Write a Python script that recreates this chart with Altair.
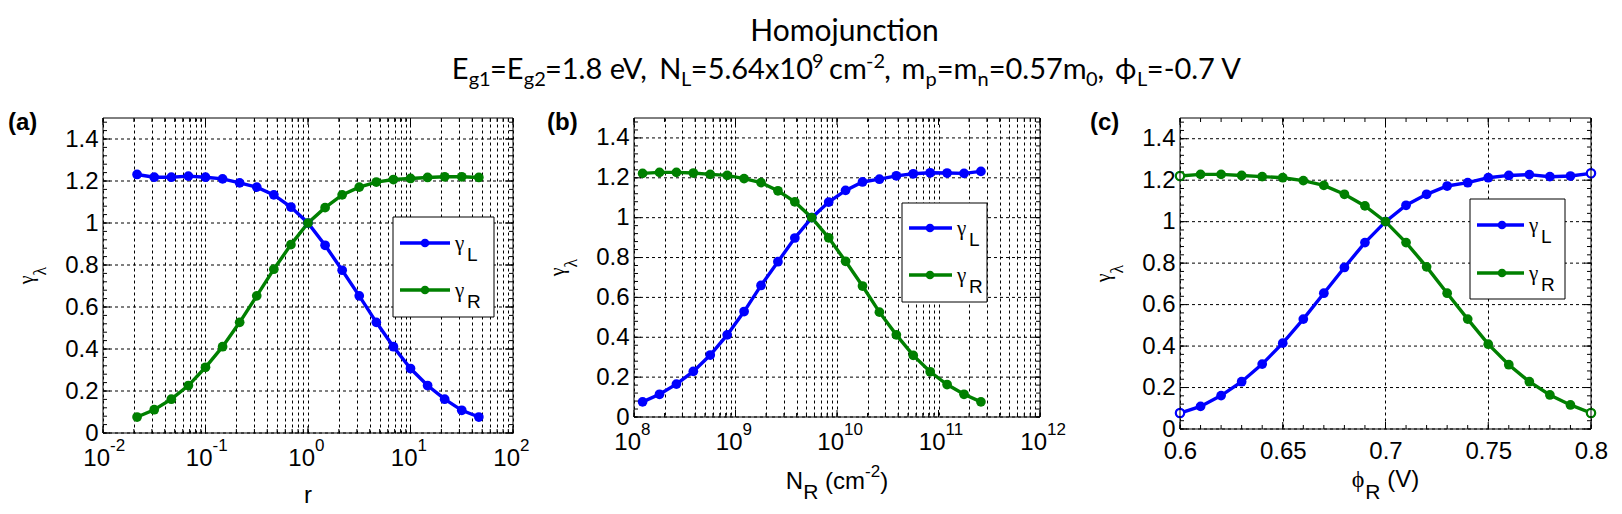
import altair as alt
import pandas as pd

# ---------------- data ----------------
r_vals = [0.0215, 0.0316, 0.0464, 0.0681, 0.1, 0.1468, 0.2154, 0.3162, 0.4642, 0.6813,
          1.0, 1.468, 2.154, 3.162, 4.642, 6.813, 10.0, 14.68, 21.54, 31.62, 46.42]
gL_a = [1.231, 1.218, 1.218, 1.223, 1.218, 1.210, 1.191, 1.171, 1.134, 1.076, 1.000,
        0.894, 0.775, 0.653, 0.527, 0.411, 0.307, 0.226, 0.161, 0.108, 0.076]
gR_a = [0.076, 0.111, 0.161, 0.226, 0.313, 0.411, 0.527, 0.653, 0.780, 0.897, 1.000,
        1.073, 1.134, 1.171, 1.195, 1.207, 1.212, 1.217, 1.220, 1.220, 1.217]

NR_vals = [1.215e8, 1.784e8, 2.618e8, 3.843e8, 5.64e8, 8.28e8, 1.215e9, 1.784e9, 2.618e9,
           3.843e9, 5.64e9, 8.28e9, 1.215e10, 1.784e10, 2.618e10, 3.843e10, 5.64e10,
           8.28e10, 1.215e11, 1.784e11, 2.618e11]
gL_b = [0.076, 0.114, 0.165, 0.229, 0.311, 0.412, 0.529, 0.660, 0.779, 0.898, 1.000,
        1.078, 1.137, 1.179, 1.193, 1.210, 1.220, 1.225, 1.224, 1.222, 1.232]
gR_b = [1.222, 1.227, 1.227, 1.224, 1.217, 1.212, 1.196, 1.176, 1.135, 1.079, 1.000,
        0.899, 0.781, 0.657, 0.526, 0.412, 0.309, 0.227, 0.163, 0.114, 0.076]

phi_vals = [0.60, 0.61, 0.62, 0.63, 0.64, 0.65, 0.66, 0.67, 0.68, 0.69, 0.70,
            0.71, 0.72, 0.73, 0.74, 0.75, 0.76, 0.77, 0.78, 0.79, 0.80]
gL_c = [0.077, 0.109, 0.161, 0.228, 0.313, 0.414, 0.530, 0.655, 0.779, 0.899, 1.000,
        1.079, 1.132, 1.172, 1.188, 1.212, 1.223, 1.227, 1.217, 1.220, 1.233]
gR_c = [1.220, 1.228, 1.228, 1.223, 1.217, 1.212, 1.198, 1.175, 1.132, 1.076, 1.000,
        0.899, 0.782, 0.655, 0.530, 0.409, 0.310, 0.228, 0.164, 0.116, 0.077]

series = ["L", "R"]
colors = ["#0000ff", "#008000"]

y_ticks = [0, 0.2, 0.4, 0.6, 0.8, 1, 1.2, 1.4]
y_minor = [round(0.04 * i, 2) for i in range(38)]

a_decades = [0.01, 0.1, 1, 10, 100]
a_exps = ["-2", "-1", "0", "1", "2"]
b_decades = [1e8, 1e9, 1e10, 1e11, 1e12]
b_exps = ["8", "9", "10", "11", "12"]
c_ticks = [0.6, 0.65, 0.7, 0.75, 0.8]

# ---------------- layout / styles ----------------
TOP = 117
LEFTS = [103, 634, 1180]
WIDTHS = [410, 406, 411]       # plot areas
GROUPW = [410, 425, 411]       # layout cells (b is padded on its right)
HEIGHTS = [315, 299, 311]
SPACING = 121
SANS = "Liberation Sans"
SERIF = "Liberation Serif"
TFONT = "Lato"
MSIZE = 95

AW = {' ': 278, '(': 333, ')': 333, '-': 333, '.': 278, 'N': 722, 'R': 722, 'V': 667,
      'L': 556, 'c': 500, 'm': 833, 'r': 333, 'ϕ': 560, 'γ': 450, 'λ': 480}
LW = {' ': 193, '=': 580, '.': 210, ',': 210, '-': 330, 'E': 587, 'N': 750, 'L': 496,
      'V': 680, 'c': 450, 'e': 518, 'g': 480, 'm': 826, 'n': 561, 'p': 559, 'x': 485,
      'ϕ': 760}


def tw(s, size, table=AW, default=556):
    return sum(table.get(ch, default) for ch in s) / 1000.0 * size


def txt(s, x, y, size, font=SANS, align="left", weight="normal", angle=0, dy=0):
    mk = dict(align=align, baseline="alphabetic", font=font, fontSize=size,
              fontWeight=weight, color="black")
    if angle:
        mk["angle"] = angle
    if dy:
        mk["dy"] = dy
    return alt.Chart(pd.DataFrame({"t": [s]})).mark_text(**mk).encode(
        x=alt.value(x), y=alt.value(y), text="t:N")


def centered(pieces, cx, base, table=AW, default=556):
    total = sum(tw(s, size, table, default) for s, size, font, off in pieces)
    x = cx - total / 2.0
    out = []
    for s, size, font, off in pieces:
        lead = len(s) - len(s.lstrip(" "))
        if s.strip():
            out.append(txt(s.strip(), x + tw(" " * lead, size, table, default),
                           base + off, size, font))
        x += tw(s, size, table, default)
    return out


def x_axis(values, labels=True, pad=10):
    kw = dict(values=values, grid=True, gridColor="black", gridDash=[3, 3], gridWidth=1,
              gridOpacity=1, domain=False, ticks=False, tickSize=0, title=None)
    if labels:
        kw.update(format="~g", labelFont=SANS, labelFontSize=24, labelColor="black",
                  labelPadding=pad, labelOverlap=False, labelFlush=False)
    else:
        kw.update(labels=False)
    return alt.Axis(**kw)


def panel(idx, xvals, yL, yR, xscale, xaxis, x_minor, x_major, legend, label, extra):
    W, H = WIDTHS[idx], HEIGHTS[idx]
    GW = GROUPW[idx]
    ys = alt.Scale(domain=[0, 1.5], nice=False, zero=False)
    yaxis = alt.Axis(values=y_ticks, format="~g", labelFont=SANS, labelFontSize=24,
                     labelColor="black", labelPadding=5, ticks=False, tickSize=0,
                     domain=False, grid=False, title=None, labelOverlap=False,
                     labelFlush=False)

    def X(f):
        return alt.X(f, type="quantitative", scale=xscale, axis=xaxis)

    def Y(f):
        return alt.Y(f, type="quantitative", scale=ys, axis=yaxis)

    one = pd.DataFrame({"a": [0]})
    df = pd.DataFrame({"x": list(xvals) * 2, "y": list(yL) + list(yR),
                       "s": ["L"] * len(xvals) + ["R"] * len(xvals)})
    col = alt.Color("s:N", scale=alt.Scale(domain=series, range=colors), legend=None)

    layers = []
    # horizontal dashed grid (drawn by hand so it stops at the plot frame)
    layers.append(alt.Chart(pd.DataFrame({"v": y_ticks})).mark_rule(
        color="black", strokeWidth=1, strokeDash=[3, 3]).encode(
        y=Y("v"), x=alt.value(0), x2=alt.value(W)))

    base = alt.Chart(df)
    layers.append(base.mark_line(strokeWidth=3.4).encode(x=X("x"), y=Y("y"), color=col))
    layers.append(base.mark_circle(size=MSIZE, opacity=1).encode(
        x=X("x"), y=Y("y"), color=col))

    # inward ticks (MATLAB box style)
    for vals, L in ((x_minor, 4), (x_major, 7)):
        d = pd.DataFrame({"v": vals})
        layers.append(alt.Chart(d).mark_rule(color="black", strokeWidth=1).encode(
            x=X("v"), y=alt.value(H), y2=alt.value(H - L)))
        layers.append(alt.Chart(d).mark_rule(color="black", strokeWidth=1).encode(
            x=X("v"), y=alt.value(0), y2=alt.value(L)))
    for vals, L in ((y_minor, 4), (y_ticks, 7)):
        d = pd.DataFrame({"v": vals})
        layers.append(alt.Chart(d).mark_rule(color="black", strokeWidth=1).encode(
            y=Y("v"), x=alt.value(0), x2=alt.value(L)))
        layers.append(alt.Chart(d).mark_rule(color="black", strokeWidth=1).encode(
            y=Y("v"), x=alt.value(W), x2=alt.value(W - L)))

    layers += extra(X, Y, df, W, H)

    # blank out any unused part of a padded layout cell
    if GW > W:
        layers.append(alt.Chart(one).mark_rect(fill="white", strokeWidth=0).encode(
            x=alt.value(W + 1), x2=alt.value(GW + 2), y=alt.value(-3), y2=alt.value(H + 3)))

    # plot frame
    layers.append(alt.Chart(one).mark_rect(
        fill="white", fillOpacity=0, stroke="black", strokeWidth=1).encode(
        x=alt.value(0), x2=alt.value(W), y=alt.value(0), y2=alt.value(H)))

    # legend box
    bx0, bx1, by0, by1, lx0, lx1, mx, e1, e2 = legend
    layers.append(alt.Chart(one).mark_rect(
        fill="white", stroke="black", strokeWidth=1).encode(
        x=alt.value(bx0), x2=alt.value(bx1), y=alt.value(by0), y2=alt.value(by1)))
    for ey, c, sub in ((e1, colors[0], "L"), (e2, colors[1], "R")):
        layers.append(alt.Chart(one).mark_rule(color=c, strokeWidth=3.4).encode(
            x=alt.value(lx0), x2=alt.value(lx1), y=alt.value(ey)))
        layers.append(alt.Chart(one).mark_circle(color=c, size=75, opacity=1).encode(
            x=alt.value(mx), y=alt.value(ey)))
        layers.append(txt("γ", lx1 + 5, ey + 7, 21, SERIF))
        layers.append(txt(sub, lx1 + 17, ey + 18, 19, SANS))

    # y-axis title  gamma_lambda (rotated)
    layers.append(txt("γ", -70, H / 2.0, 20, SERIF, align="right", angle=270))
    layers.append(txt("λ", -70, H / 2.0, 18, SERIF, align="left", angle=270, dy=13))

    # panel label
    layers.append(txt(label[0], label[1], 12, 24, SANS, weight="bold"))

    return alt.layer(*layers).properties(
        width=GW, height=H,
        view=alt.ViewBackground(stroke="transparent", strokeWidth=0))


def log_grid(lo, hi):
    vals = []
    for e in range(lo, hi):
        for m in range(1, 10):
            vals.append(m * 10.0 ** e)
    vals.append(10.0 ** hi)
    return vals


def log_labels(X, decs, exps, H):
    d = pd.DataFrame({"v": decs, "e": exps})
    return [
        alt.Chart(d).mark_text(text="10", align="right", baseline="alphabetic", dx=7,
                               font=SANS, fontSize=24, color="black").encode(
            x=X("v"), y=alt.value(H + 33)),
        alt.Chart(d).mark_text(align="left", baseline="alphabetic", dx=7,
                               font=SANS, fontSize=17, color="black").encode(
            x=X("v"), y=alt.value(H + 18), text="e:N"),
    ]


# ---------------- panel (a) ----------------
def extra_a(X, Y, df, W, H):
    out = log_labels(X, a_decades, a_exps, H)
    out += centered([("r", 24, SANS, 0)], W / 2.0, H + 70)
    return out


a_grid = log_grid(-2, 2)
xs_a = alt.Scale(type="log", domain=[0.01, 100], nice=False, range=[0, WIDTHS[0]])
pa = panel(0, r_vals, gL_a, gR_a, xs_a, x_axis(a_grid, labels=False), a_grid, a_decades,
           (290, 391, 99, 199, 297, 347, 322, 125, 172), ("(a)", -95), extra_a)


# ---------------- panel (b) ----------------
def extra_b(X, Y, df, W, H):
    out = log_labels(X, b_decades, b_exps, H)
    out += centered([("N", 24, SANS, 0), ("R", 21, SANS, 10), (" (cm", 24, SANS, 0),
                     ("-2", 17, SANS, -12), (")", 24, SANS, 0)], W / 2.0, H + 72)
    # figure title (placed relative to this panel)
    L0 = LEFTS[1]
    out.append(txt("Homojunction", 844.5 - L0, 40 - TOP, 30, TFONT, align="center"))
    M, S = 29, 20
    pieces = [("E", M, 0), ("g1", S, 7), ("=E", M, 0), ("g2", S, 7), ("=1.8 eV,", M, 0),
              ("  N", M, 0), ("L", S, 7), ("=5.64x10", M, 0), ("9", S, -11),
              (" cm", M, 0), ("-2", S, -11), (",", M, 0), ("  m", M, 0), ("p", S, 7),
              ("=m", M, 0), ("n", S, 7), ("=0.57m", M, 0), ("0", S, 7), (",", M, 0),
              ("  ϕ", M, 0), ("L", S, 7), ("=-0.7 V", M, 0)]
    out += centered([(s, sz, TFONT, off) for s, sz, off in pieces], 845 - L0, 78 - TOP,
                    table=LW, default=580)
    return out


b_grid = log_grid(8, 12)
xs_b = alt.Scale(type="log", domain=[1e8, 1e12], nice=False, range=[0, WIDTHS[1]])
pb = panel(1, NR_vals, gL_b, gR_b, xs_b, x_axis(b_grid, labels=False), b_grid, b_decades,
           (268, 353, 85, 184, 275, 318, 296, 110, 157), ("(b)", -87), extra_b)


# ---------------- panel (c) ----------------
def extra_c(X, Y, df, W, H):
    stroke = alt.Stroke("s:N", scale=alt.Scale(domain=series, range=colors), legend=None)
    ends = alt.Chart(df).transform_filter("datum.x < 0.6001 || datum.x > 0.7999").mark_point(
        shape="circle", size=70, strokeWidth=2.2, fill="white", fillOpacity=1, opacity=1,
        filled=False).encode(x=X("x"), y=Y("y"), stroke=stroke)
    out = [ends]
    out += centered([("ϕ", 24, SERIF, 0), ("R", 21, SANS, 12), (" (V)", 24, SANS, 0)],
                    W / 2.0, H + 58)
    return out


xs_c = alt.Scale(domain=[0.6, 0.8], nice=False, zero=False, range=[0, WIDTHS[2]])
pc = panel(2, phi_vals, gL_c, gR_c, xs_c, x_axis(c_ticks, labels=True, pad=10),
           phi_vals, c_ticks, (290, 385, 81, 181, 297, 344, 322, 107, 155), ("(c)", -90),
           extra_c)

chart = alt.hconcat(pa, pb, pc, spacing=SPACING, bounds="flush").properties(
    padding={"left": 0, "top": 9, "right": 0, "bottom": 0}
).configure_view(stroke="transparent", strokeWidth=0).configure(
    font=SANS, style={"cell": {"stroke": "transparent", "strokeWidth": 0}})

chart.save("out.html", embed_options={"renderer": "svg", "actions": False})
